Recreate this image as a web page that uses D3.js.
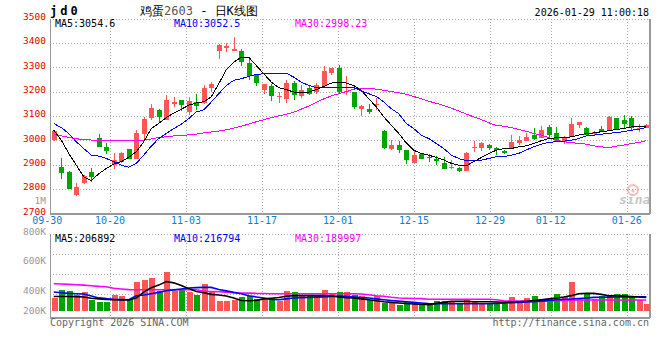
<!DOCTYPE html>
<html><head><meta charset="utf-8">
<script src="https://cdn.jsdelivr.net/npm/d3@7/dist/d3.min.js"></script>
<style>
html,body{margin:0;padding:0;background:#fff;}
svg{display:block;}
text{font-family:"DejaVu Sans Mono",monospace;}
</style>
</head><body>
<script>
// ---------------- data ----------------
const dates = ["09-30",
"10-09","10-10","10-13","10-14","10-15","10-16","10-17","10-20","10-21","10-22","10-23","10-24","10-27","10-28","10-29","10-30","10-31",
"11-03","11-04","11-05","11-06","11-07","11-10","11-11","11-12","11-13","11-14","11-17","11-18","11-19","11-20","11-21","11-24","11-25","11-26","11-27","11-28",
"12-01","12-02","12-03","12-04","12-05","12-08","12-09","12-10","12-11","12-12","12-15","12-16","12-17","12-18","12-19","12-22","12-23","12-24","12-25","12-26","12-29","12-30","12-31",
"01-05","01-06","01-07","01-08","01-09","01-12","01-13","01-14","01-15","01-16","01-19","01-20","01-21","01-22","01-23","01-26","01-27","01-28","01-29"];

const open  = [3003,2891,2870,2777,2826,2870,3011,2973,2898,2912, 2964,2925,3026,3093,3123,3085,3150,3164,3116,3157,
               3153,3216,3366,3379,3366,3368,3317,3269,3205,3221, 3178,3171,3236,3180,3216,3198,3224,3278,3295,3197,
               3198,3128,3130,3146,3037,2966,2980,2959,2908,2943, 2932,2925,2908,2887,2888,2875,2969,2969,2980,2970,
               2955,2969,2987,2998,3022,3009,3054,3028,2994,3014, 3063,3050,3024,3045,3041,3090,3082,3090,3047,3052];
const high  = [3043,2927,2873,2823,2857,2887,3025,2990,2946,2951, 2965,3041,3096,3148,3130,3185,3178,3167,3178,3189,
               3225,3239,3394,3398,3423,3373,3341,3273,3231,3232, 3198,3249,3243,3225,3225,3235,3303,3296,3311,3265,
               3199,3143,3148,3175,3044,3000,2998,2962,2959,2945, 2943,2935,2930,2918,2889,2953,2996,2993,2983,2971,
               2960,3021,3017,3028,3050,3058,3062,3055,3017,3093, 3075,3055,3036,3058,3099,3091,3103,3099,3066,3066];
const low   = [2998,2840,2800,2769,2822,2830,2972,2943,2880,2905, 2921,2923,3003,3082,3075,3082,3137,3120,3103,3123,
               3150,3198,3334,3362,3365,3303,3248,3221,3189,3161, 3153,3153,3167,3175,3184,3189,3221,3266,3189,3185,
               3130,3098,3109,3123,2966,2959,2946,2902,2907,2922, 2912,2898,2882,2880,2871,2874,2953,2957,2959,2939,
               2943,2968,2980,2995,3003,3008,3014,2994,2984,3013, 3052,3017,3020,3032,3039,3041,3052,3041,3032,3051];
const close = [3039,2867,2801,2808,2853,2850,2973,2955,2919,2946, 2925,3028,3086,3134,3096,3164,3157,3144,3160,3141,
               3216,3232,3393,3386,3373,3321,3262,3235,3230,3180, 3180,3236,3184,3208,3191,3225,3284,3295,3198,3203,
               3137,3142,3114,3150,2970,2980,2962,2919,2939,2925, 2928,2914,2883,2891,2875,2949,2973,2989,2969,2959,
               2949,2994,3000,3014,3007,3041,3021,3003,3009,3066, 3074,3022,3032,3037,3096,3044,3066,3050,3052,3062];

const ma5  = [3041,3000,2946,2898,2850,2835,2862,2884,2902,2912, 2930,2953,2994,3048,3069,3093,3112,3127,3144,3153,
              3158,3178,3232,3289,3321,3341,3341,3307,3273,3239, 3216,3208,3198,3198,3198,3208,3221,3235,3236,3235,
              3225,3205,3171,3137,3096,3062,3028,2989,2959,2946, 2939,2929,2919,2905,2898,2895,2912,2929,2946,2959,
              2966,2966,2973,2977,2987,2998,3007,3010,3010,3014, 3021,3028,3030,3035,3039,3044,3048,3055,3058,3055];
const ma10 = [3069,3052,3028,2994,2966,2939,2935,2925,2912,2898, 2889,2905,2939,2976,3007,3028,3048,3066,3089,3116,
              3125,3157,3191,3225,3246,3253,3262,3270,3273,3276, 3276,3276,3259,3239,3225,3216,3216,3218,3218,3218,
              3216,3202,3191,3180,3157,3130,3109,3069,3048,3021, 3007,2987,2966,2939,2925,2916,2916,2918,2925,2932,
              2932,2939,2946,2960,2973,2984,2991,2994,2996,3000, 3007,3018,3021,3025,3028,3032,3035,3041,3045,3052];
const ma30 = [3023,3018,3012,3006,3003,3001,3000,3000,3000,3000, 3000,3000,3000,3005,3012,3014,3018,3020,3022,3025,
              3030,3034,3038,3043,3050,3058,3066,3076,3084,3093, 3100,3107,3115,3128,3140,3155,3170,3182,3191,3200,
              3210,3212,3212,3210,3205,3200,3195,3189,3180,3170, 3160,3152,3143,3132,3120,3108,3096,3085,3072,3060,
              3058,3052,3044,3037,3028,3021,3011,3000,2994,2990, 2987,2984,2977,2973,2970,2976,2980,2987,2990,2998];

const volume = [203,328,312,245,297,172,130,141,250,230, 182,443,485,516,312,609,302,328,287,240,
                422,312,146,146,172,208,224,188,182,198, 157,312,297,234,245,224,328,265,287,287,
                250,234,172,224,120,120,89,130,120,89, 104,157,157,141,120,188,146,120,104,120,
                120,218,151,203,234,182,182,265,214,453, 198,265,188,224,245,265,265,224,172,110].map(v => v * 1000);
const volMa5  = [223,223,223,220,215,195,185,175,170,167, 167,200,290,360,400,455,435,395,345,300,
                 280,255,245,230,200,160,155,160,185,195, 205,225,235,235,235,235,235,230,214,205,
                 198,185,172,156,141,130,120,112,105,100, 95,115,130,145,145,145,140,140,140,135,
                 130,135,140,145,160,172,185,198,215,235, 266,270,270,255,234,234,228,222,215,207].map(v => v * 1000);
const volMa10 = [292,280,270,266,262,230,200,188,180,175, 172,232,245,265,286,312,325,339,355,360,
                 364,364,330,310,286,266,234,215,198,175, 172,185,198,202,207,212,216,222,228,225,
                 215,205,198,185,172,160,150,141,130,120, 112,109,109,109,109,109,109,109,109,115,
                 120,125,130,135,141,150,160,172,177,182, 190,198,208,210,212,214,215,216,217,217].map(v => v * 1000);
const volMa30 = [422,418,412,405,400,390,380,375,350,340, 330,328,328,328,328,328,328,328,328,328,
                 305,300,297,290,280,276,275,270,268,266, 266,266,266,266,266,266,266,266,266,266,
                 266,262,250,234,225,210,198,195,190,188, 178,178,178,178,178,178,178,178,178,170,
                 155,152,150,150,150,150,150,155,160,165, 167,167,167,167,167,167,167,167,167,167].map(v => v * 1000);

const priceTicks = [3500,3400,3300,3200,3100,3000,2900,2800,2700];
const volTickValues = [1000000,800000,600000,400000,200000];
const volTickLabels = ["1M","800K","600K","400K","200K"];
const dateTicks = ["09-30","10-20","11-03","11-17","12-01","12-15","12-29","01-12","01-26"];

const priceLegend = [{t:"MA5:3054.6", c:"#000"},{t:"MA10:3052.5", c:"#0000ff"},{t:"MA30:2998.23", c:"#ff00ff"}];
const volLegend   = [{t:"MA5:206892", c:"#000"},{t:"MA10:216794", c:"#0000ff"},{t:"MA30:189997", c:"#ff00ff"}];

// ---------------- layout ----------------
const W = 660, H = 360;
const L = 50, R = 650;
const pTop = 18.5, pBot = 213.3;
const vTop = 234.3, vBase = 310.7, vBot = 317.7;
const RED = "#ff5555", GREEN = "#00a600";

const svg = d3.select("body").append("svg").attr("width", W).attr("height", H);

const x = d3.scaleBand().domain(dates).range([L, R]);
const cx = d => x(d) + x.bandwidth() / 2;
const xg = d3.scalePoint().domain(dates).range([49.2, 49.2 + (dates.length - 1) * 7.6]);
const y = d3.scaleLinear().domain([2700, 3500]).range([pBot, pTop]);
const yv = d3.scaleLinear().domain([0, 1200000]).range([vBase, vBase - 76.8]);
const yvLabel = d3.scaleLinear().domain([200000, 400000, 1000000]).range([310.3, 290.7, 200.7]);

const grid = svg.append("g").attr("shape-rendering", "crispEdges")
  .attr("stroke", "#aaa").attr("stroke-dasharray", "1,2").attr("fill", "none");

// price horizontal grid
priceTicks.filter(v => v > 2700).forEach(v => {
  const yy = Math.round(y(v)) + 0.5;
  grid.append("line").attr("x1", L).attr("x2", R).attr("y1", yy).attr("y2", yy);
});
// volume horizontal grid
d3.range(4).forEach(k => {
  const yy = Math.round(vTop + k * 20) + 0.5;
  grid.append("line").attr("x1", L).attr("x2", R).attr("y1", yy).attr("y2", yy);
});
// vertical grid
dateTicks.slice(1).forEach(d => {
  const xx = Math.round(xg(d)) + 0.5;
  grid.append("line").attr("x1", xx).attr("x2", xx).attr("y1", pTop).attr("y2", pBot);
  grid.append("line").attr("x1", xx).attr("x2", xx).attr("y1", vTop).attr("y2", vBot);
});

// borders
const bd = svg.append("g").attr("shape-rendering", "crispEdges").attr("stroke", "#999").attr("fill", "none");
bd.append("line").attr("x1", L + 0.5).attr("x2", L + 0.5).attr("y1", pTop).attr("y2", pBot + 1);
bd.append("line").attr("x1", R - 0.5).attr("x2", R - 0.5).attr("y1", pTop).attr("y2", pBot + 1).attr("stroke-width", 2);
bd.append("line").attr("x1", L).attr("x2", R).attr("y1", Math.round(pBot) + 0.5).attr("y2", Math.round(pBot) + 0.5).attr("stroke-width", 2);
bd.append("line").attr("x1", L + 0.5).attr("x2", L + 0.5).attr("y1", vTop).attr("y2", vBot);
bd.append("line").attr("x1", R - 0.5).attr("x2", R - 0.5).attr("y1", vTop).attr("y2", vBot).attr("stroke-width", 2);
bd.append("line").attr("x1", L).attr("x2", R).attr("y1", vBot).attr("y2", vBot).attr("stroke-width", 2);

// watermark
const wm = svg.append("g").attr("opacity", 0.55);
wm.append("circle").attr("cx", 633).attr("cy", 190).attr("r", 5).attr("fill", "none").attr("stroke", "#e88").attr("stroke-width", 2);
wm.append("circle").attr("cx", 633).attr("cy", 191).attr("r", 1.6).attr("fill", "#e88");
wm.append("text").attr("x", 619).attr("y", 204).attr("font-family", "Arial, 'Liberation Sans', sans-serif")
  .attr("font-style", "italic").attr("font-weight", "bold").attr("font-size", 13).attr("fill", "#999").text("sina");

// candles
const idx = d3.range(dates.length);
const cg = svg.append("g").attr("shape-rendering", "crispEdges");
idx.forEach(i => {
  const up = close[i] >= open[i];
  const col = up ? RED : GREEN;
  const xc = Math.round(cx(dates[i]));
  cg.append("line").attr("x1", xc + 0.5).attr("x2", xc + 0.5)
    .attr("y1", y(high[i])).attr("y2", y(low[i])).attr("stroke", col);
  const top = y(Math.max(open[i], close[i])), bot = y(Math.min(open[i], close[i]));
  cg.append("rect").attr("x", xc - 2).attr("width", 5)
    .attr("y", top).attr("height", Math.max(1, bot - top)).attr("fill", col);
});

// MA lines (price)
const lineP = arr => d3.line().x(i => cx(dates[i])).y(i => y(arr[i]))(idx);
[[ma30, "#ff00ff"], [ma10, "#0000ff"], [ma5, "#000"]].forEach(([a, c]) => {
  svg.append("path").attr("d", lineP(a)).attr("fill", "none").attr("stroke", c)
    .attr("stroke-width", 1).attr("shape-rendering", "crispEdges");
});

// volume bars
const vg = svg.append("g").attr("shape-rendering", "crispEdges");
idx.forEach(i => {
  const up = close[i] >= open[i];
  const xc = Math.round(cx(dates[i]));
  vg.append("rect").attr("x", xc - 2.5).attr("width", 6)
    .attr("y", yv(volume[i])).attr("height", yv(0) - yv(volume[i]))
    .attr("fill", up ? RED : GREEN);
});
const lineV = arr => d3.line().x(i => cx(dates[i])).y(i => yv(arr[i]))(idx);
[[volMa30, "#ff00ff"], [volMa10, "#0000ff"], [volMa5, "#000"]].forEach(([a, c]) => {
  svg.append("path").attr("d", lineV(a)).attr("fill", "none").attr("stroke", c)
    .attr("stroke-width", 1.6);
});

// price axis labels
priceTicks.forEach(v => {
  svg.append("text").attr("x", 46).attr("y", y(v) + 1.3).attr("text-anchor", "end")
    .attr("font-size", 9.5).attr("fill", "#e00000").text(v);
});
// volume axis labels
volTickValues.forEach((v, k) => {
  svg.append("text").attr("x", 46).attr("y", yvLabel(v) + (v === 800000 ? 4.6 : 3.4)).attr("text-anchor", "end")
    .attr("font-size", 9.5).attr("fill", "#999").text(volTickLabels[k]);
});
// date labels
dateTicks.forEach(d => {
  svg.append("text").attr("x", xg(d) - (d === "09-30" ? 2 : 0)).attr("y", 224).attr("text-anchor", "middle")
    .attr("font-size", 10).attr("fill", "#0a80d0").text(d);
});

// legends
const legX = [55, 174, 295];
priceLegend.forEach((o, k) => svg.append("text").attr("x", legX[k]).attr("y", 27)
  .attr("font-size", 10).attr("fill", o.c).text(o.t));
volLegend.forEach((o, k) => svg.append("text").attr("x", legX[k]).attr("y", 242)
  .attr("font-size", 10).attr("fill", o.c).text(o.t));

// title
svg.append("text").attr("x", 50).attr("y", 15).attr("font-size", 12).attr("font-weight", "bold")
  .attr("letter-spacing", 3).attr("fill", "#000").text("jd0");
const tt = svg.append("text").attr("x", 140).attr("y", 15)
  .attr("font-family", "'Noto Sans CJK SC', sans-serif").attr("font-size", 12).attr("fill", "#000");
tt.append("tspan").text("鸡蛋");
tt.append("tspan").attr("fill", "#555").text("2603");
tt.append("tspan").text(" - ");
tt.append("tspan").text("日K线图");
svg.append("text").attr("x", 649).attr("y", 15.5).attr("text-anchor", "end")
  .attr("font-size", 10).attr("fill", "#000").text("2026-01-29 11:00:18");

// footer
svg.append("text").attr("x", 50).attr("y", 326).attr("font-size", 10).attr("fill", "#666").text("Copyright 2026 SINA.COM");
svg.append("text").attr("x", 649).attr("y", 326).attr("text-anchor", "end").attr("font-size", 10).attr("fill", "#666")
  .text("http://finance.sina.com.cn");
</script>
</body></html>
